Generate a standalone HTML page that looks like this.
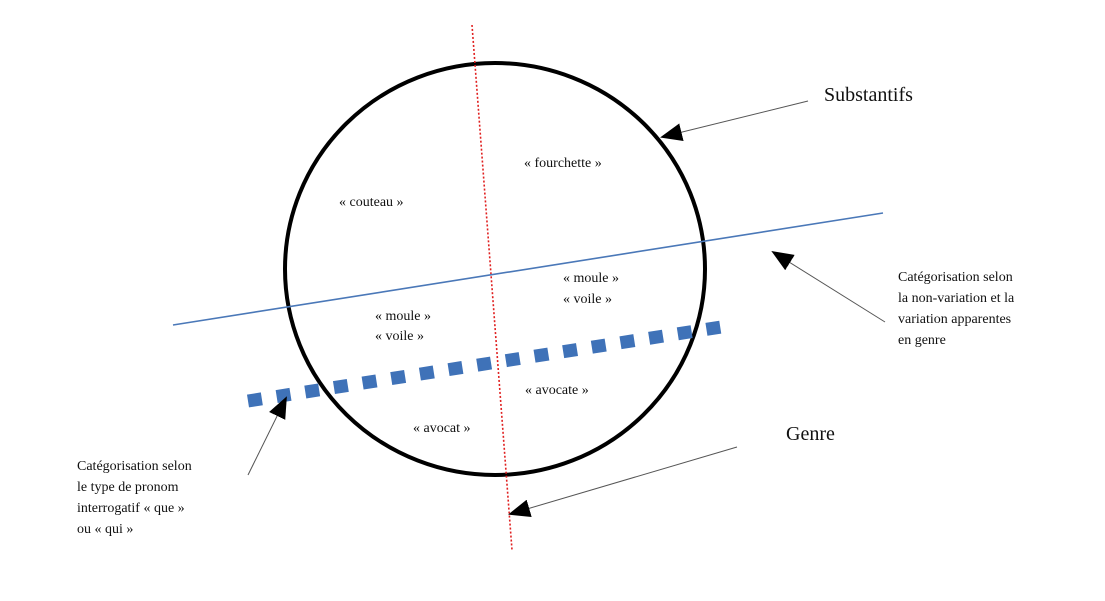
<!DOCTYPE html>
<html><head><meta charset="utf-8"><style>
body{margin:0;background:#fff}
svg text{font-family:"Liberation Serif",serif;fill:#111}
</style></head><body>
<svg width="1105" height="596" viewBox="0 0 1105 596" xmlns="http://www.w3.org/2000/svg">
<defs>
<marker id="ah" markerWidth="10" markerHeight="10" refX="9" refY="5" orient="auto" markerUnits="userSpaceOnUse" viewBox="0 0 10 10">
<path d="M0,0 L10,5 L0,10 z" fill="#000"/>
</marker>
<marker id="ahb" markerWidth="22" markerHeight="18" refX="20" refY="9" orient="auto" markerUnits="userSpaceOnUse" viewBox="0 0 22 18">
<path d="M0,0 L22,9 L0,18 z" fill="#000"/>
</marker>
</defs>
<ellipse cx="495" cy="269" rx="210" ry="206" fill="none" stroke="#000" stroke-width="4"/>
<line x1="472" y1="25" x2="512" y2="550" stroke="#e02020" stroke-width="1.6" stroke-dasharray="2,2"/>
<line x1="173" y1="325" x2="883" y2="213" stroke="#4a78b8" stroke-width="1.6"/>
<line x1="248" y1="401" x2="734" y2="325" stroke="#3f72b8" stroke-width="13" stroke-dasharray="14,15"/>
<line x1="808" y1="101" x2="662" y2="137" stroke="#555" stroke-width="1" marker-end="url(#ahb)"/>
<line x1="885" y1="322" x2="773" y2="252" stroke="#555" stroke-width="1" marker-end="url(#ahb)"/>
<line x1="737" y1="447" x2="510" y2="514" stroke="#555" stroke-width="1" marker-end="url(#ahb)"/>
<line x1="248" y1="475" x2="286" y2="398" stroke="#555" stroke-width="1" marker-end="url(#ahb)"/>
<text x="824" y="101" font-size="20">Substantifs</text>
<text x="786" y="440" font-size="20">Genre</text>
<g font-size="14">
<text x="524" y="167">« fourchette »</text>
<text x="339" y="206">« couteau »</text>
<text x="563" y="282">« moule »</text>
<text x="563" y="303">« voile »</text>
<text x="375" y="320">« moule »</text>
<text x="375" y="340">« voile »</text>
<text x="525" y="394">« avocate »</text>
<text x="413" y="432">« avocat »</text>
<text x="898" y="281">Catégorisation selon</text>
<text x="898" y="302">la non-variation et la</text>
<text x="898" y="323">variation apparentes</text>
<text x="898" y="344">en genre</text>
<text x="77" y="470">Catégorisation selon</text>
<text x="77" y="491">le type de pronom</text>
<text x="77" y="512">interrogatif « que »</text>
<text x="77" y="533">ou « qui »</text>
</g>
</svg>
</body></html>
